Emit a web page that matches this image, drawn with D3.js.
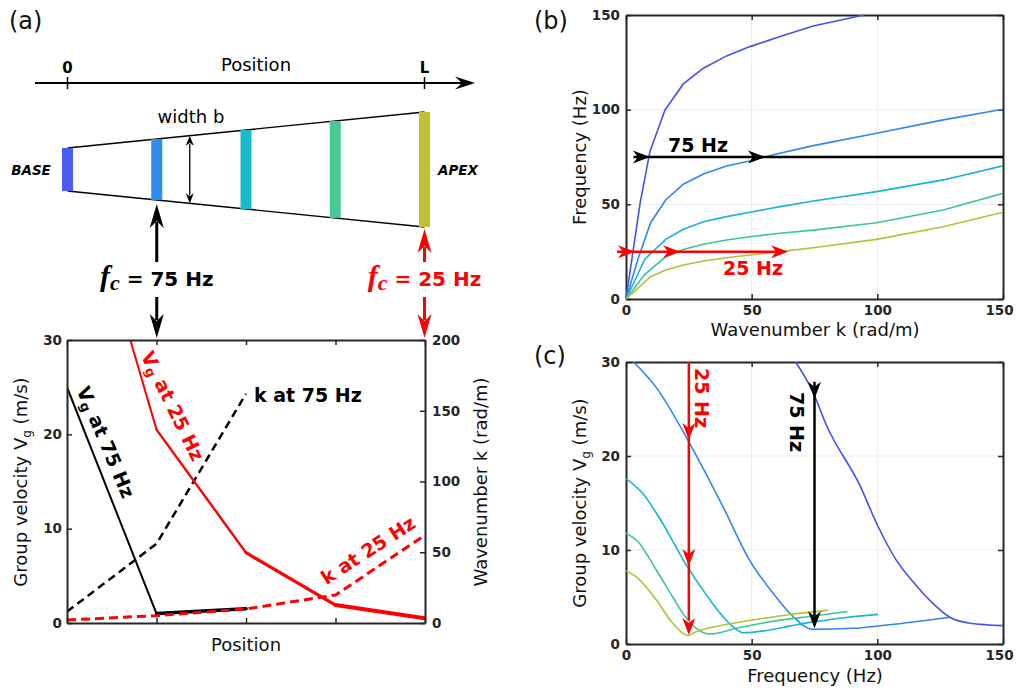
<!DOCTYPE html>
<html><head><meta charset="utf-8">
<script src="https://cdn.jsdelivr.net/npm/d3@7"></script>
<style>body{margin:0;background:#fff}svg{display:block}</style>
</head><body>
<svg id="fig" width="1016" height="690"></svg>
<script>
// ---------- DATA ----------
// Panel (a): schematic + group velocity / wavenumber along position
const positions = [0, 1, 2, 3, 4];
const barColors = ["#4b5cf2", "#2e8cf0", "#18bccd", "#44c995", "#c0c030"];
const vg75 = [25, 1.0, 1.5];            // positions 0..2
const k75 = [8, 56, 162];               // positions 0..2
const vg25 = [53, 20.5, 7.45, 1.9, 0.5];
const k25 = [2.1, 5.2, 9.9, 19.8, 62];
const aLeftTicks = [0, 10, 20, 30];
const aRightTicks = [0, 50, 100, 150, 200];

// Panel (b): dispersion curves (wavenumber k, frequency f)
const bK1 = [0, 5.6, 9.5, 15.5, 22.8, 30.8, 40, 49.3, 61.3, 74.5, 94.7];
const bF1 = [0, 50.5, 77.8, 99.8, 113.6, 121.9, 128.4, 133.3, 138.6, 144.2, 150];
const bK2 = [0, 5, 9.8, 15.8, 22.8, 30.8, 40, 49.3, 59.9, 74.5, 99.7, 126.2, 150];
const bF2 = [0, 22, 40.3, 52.3, 60.6, 66, 70.3, 72.9, 76.6, 81, 87.5, 94.6, 100.2];
const bK3 = [0, 7.5, 15.8, 22.8, 30.8, 40, 49.3, 61.3, 74.5, 99.7, 126.2, 150];
const bF3 = [0, 21, 31.5, 36.8, 40.8, 43.5, 45.8, 48.8, 51.8, 56.7, 62.9, 70.3];
const bK4 = [0, 7.5, 15.8, 22.8, 30.8, 40, 49.3, 61.3, 74.5, 99.7, 126.2, 150];
const bF4 = [0, 13, 22.3, 26.2, 28.9, 31.2, 32.9, 34.7, 36.4, 40.3, 47, 55.8];
const bK5 = [0, 9.8, 15.8, 22.8, 30.8, 40, 49.3, 61.3, 74.5, 99.7, 126.2, 150];
const bF5 = [0, 11.8, 15.3, 18, 20.1, 21.8, 23.2, 25, 27.1, 31.5, 38.2, 45.8];
const bTicks = [0, 50, 100, 150];

// Panel (c): group velocity vs frequency
const cF1 = [67.5, 74.4, 79.7, 93, 100.3, 107.6, 114.3, 122.2, 128.9, 136.9, 150];
const cV1 = [30, 26.8, 23.3, 16.9, 12.5, 8.9, 6.6, 4.3, 2.84, 2.2, 1.95];
const cF2 = [3, 12, 25.3, 38.6, 49.2, 58.5, 66.5, 74.4, 90.4, 100.3, 128.9];
const cV2 = [30, 27.3, 21.35, 14.6, 8.9, 5.4, 2.9, 1.56, 1.67, 1.91, 2.84];
const cF3 = [0, 6.7, 13.3, 24, 32, 38.6, 42.6, 46.5, 55, 65, 74.4, 87, 100.3];
const cV3 = [17.6, 16, 13.4, 8.4, 5.2, 2.9, 1.84, 1.2, 1.4, 1.9, 2.35, 2.8, 3.15];
const cF4 = [0, 4.7, 12, 18.6, 22.6, 28, 33.3, 43.9, 57.2, 74.4, 88.1];
const cV4 = [11.8, 10.9, 7.9, 5.0, 3.26, 1.67, 1.06, 1.67, 2.37, 2.98, 3.45];
const cF5 = [0, 4.7, 12, 18.6, 22.6, 24.6, 28, 37.2, 50.5, 63.8, 80.4];
const cV5 = [7.8, 7.0, 4.7, 2.2, 1.14, 0.9, 1.31, 1.95, 2.55, 3.09, 3.6];
const cXTicks = [0, 50, 100, 150];
const cYTicks = [0, 10, 20, 30];

const curveColors = ["#4650ea", "#2f86f0", "#18b4d4", "#3cc59a", "#aec23a"];

// ---------- DRAW ----------
const svg = d3.select("#fig");
const SANS = "DejaVu Sans";
const TICKF = "DejaVu Sans";
const AX = "#262626";

function head(g, x, y, dx, dy, L, W, N, color) {
  const nx = -dy, ny = dx;
  const bx = x - L * dx, by = y - L * dy;
  const p = [[x, y], [bx + W * nx, by + W * ny], [x - (L - N) * dx, y - (L - N) * dy], [bx - W * nx, by - W * ny]];
  g.append("path").attr("d", "M" + p.map(q => q.join(",")).join("L") + "Z").attr("fill", color);
}

function styleAxis(sel) {
  sel.attr("font-family", TICKF).attr("font-size", 13.5);
  sel.select(".domain").attr("stroke", AX).attr("stroke-width", 2);
  sel.selectAll(".tick line").attr("stroke", AX).attr("stroke-width", 1.5);
  sel.selectAll(".tick text").attr("fill", AX)
     .style("font-family", TICKF).style("font-weight", "700").style("font-size", "13.5px");
}

function frame(g, x, y, xt, ytL, opts) {
  opts = opts || {};
  const [x0, x1] = x.range(), [y0, y1] = y.range();
  if (opts.grid) {
    const gg = g.append("g");
    opts.gridX.forEach(v => gg.append("line").attr("x1", x(v)).attr("x2", x(v)).attr("y1", y0).attr("y2", y1).attr("stroke", "#ebebeb"));
    opts.gridY.forEach(v => gg.append("line").attr("x1", x0).attr("x2", x1).attr("y1", y(v)).attr("y2", y(v)).attr("stroke", "#ebebeb"));
  }
  const bx = g.append("g").attr("transform", `translate(0,${y0})`)
    .call(d3.axisBottom(x).tickValues(xt).tickSize(-5).tickSizeOuter(0).tickPadding(6).tickFormat(opts.xfmt || d3.format("d")));
  styleAxis(bx);
  bx.selectAll(".tick text").filter(d => d === x.domain()[1] && x.range()[1] > 990).attr("dx", -4);
  const tx = g.append("g").attr("transform", `translate(0,${y1})`)
    .call(d3.axisTop(x).tickValues(xt).tickSize(-5).tickSizeOuter(0).tickFormat(""));
  styleAxis(tx);
  const ly = g.append("g").attr("transform", `translate(${x0},0)`)
    .call(d3.axisLeft(y).tickValues(ytL).tickSize(-5).tickSizeOuter(0).tickPadding(opts.lpad || 6).tickFormat(d3.format("d")));
  styleAxis(ly);
  if (!opts.noRight) {
    const ry = g.append("g").attr("transform", `translate(${x1},0)`)
      .call(d3.axisRight(y).tickValues(ytL).tickSize(-5).tickSizeOuter(0).tickFormat(""));
    styleAxis(ry);
  }
}

function clip(id, x, y) {
  svg.append("clipPath").attr("id", id).append("rect")
    .attr("x", x.range()[0]).attr("y", y.range()[1])
    .attr("width", x.range()[1] - x.range()[0]).attr("height", y.range()[0] - y.range()[1]);
}

function panelLabel(t, x, y) {
  svg.append("text").attr("x", x).attr("y", y).attr("font-family", SANS).attr("font-size", 24).attr("fill", "#111").text(t);
}

// ===== Panel (a) schematic =====
panelLabel("(a)", 9, 29);
panelLabel("(b)", 534, 29);
panelLabel("(c)", 534, 364);

const xa = d3.scaleLinear([0, 4], [67.5, 424.5]);
const halfW = d3.scaleLinear([0, 4], [21.5, 57.5]);
const cy = 169.5;
const sch = svg.append("g");

// position axis
sch.append("line").attr("x1", 35).attr("x2", 462).attr("y1", 83).attr("y2", 83).attr("stroke", "#000").attr("stroke-width", 2);
head(sch, 475, 83, 1, 0, 20, 6.5, 7, "#000");
[0, 4].forEach(p => sch.append("line").attr("x1", xa(p)).attr("x2", xa(p)).attr("y1", 77).attr("y2", 89).attr("stroke", "#000").attr("stroke-width", 1.5));
sch.append("text").attr("x", xa(0)).attr("y", 73).attr("text-anchor", "middle").attr("font-family", SANS).attr("font-weight", "bold").attr("font-size", 15).text("0");
sch.append("text").attr("x", xa(4)).attr("y", 73).attr("text-anchor", "middle").attr("font-family", SANS).attr("font-weight", "bold").attr("font-size", 15).text("L");
sch.append("text").attr("x", 256).attr("y", 71).attr("text-anchor", "middle").attr("font-family", SANS).attr("font-size", 18).text("Position");

// trapezoid
sch.append("line").attr("x1", xa(0)).attr("x2", xa(4)).attr("y1", cy - halfW(0)).attr("y2", cy - halfW(4)).attr("stroke", "#000").attr("stroke-width", 1.3);
sch.append("line").attr("x1", xa(0)).attr("x2", xa(4)).attr("y1", cy + halfW(0)).attr("y2", cy + halfW(4)).attr("stroke", "#000").attr("stroke-width", 1.3);
sch.selectAll("rect.bar").data(positions).join("rect").attr("class", "bar")
  .attr("x", p => xa(p) - 5.5).attr("width", 11)
  .attr("y", p => cy - halfW(p)).attr("height", p => 2 * halfW(p))
  .attr("fill", (p, i) => barColors[i]);

// width b arrow
const wbP = 1.37;
sch.append("line").attr("x1", xa(wbP)).attr("x2", xa(wbP)).attr("y1", cy - halfW(wbP) + 8).attr("y2", cy + halfW(wbP) - 8).attr("stroke", "#000").attr("stroke-width", 1.3);
head(sch, xa(wbP), cy - halfW(wbP), 0, -1, 10, 4, 3, "#000");
head(sch, xa(wbP), cy + halfW(wbP), 0, 1, 10, 4, 3, "#000");
sch.append("text").attr("x", 191).attr("y", 123).attr("text-anchor", "middle").attr("font-family", SANS).attr("font-size", 18).text("width b");
sch.append("text").attr("x", 31).attr("y", 175).attr("text-anchor", "middle").attr("font-family", SANS).attr("font-weight", "bold").attr("font-style", "italic").attr("font-size", 13.5).text("BASE");
sch.append("text").attr("x", 458).attr("y", 175).attr("text-anchor", "middle").attr("font-family", SANS).attr("font-weight", "bold").attr("font-style", "italic").attr("font-size", 13.5).text("APEX");

// fc arrows
function fcArrow(p, color, upTip, label) {
  const x = xa(p);
  sch.append("line").attr("x1", x).attr("x2", x).attr("y1", 262).attr("y2", upTip + 18).attr("stroke", color).attr("stroke-width", 3);
  head(sch, x, upTip, 0, -1, 24, 7, 7, color);
  sch.append("line").attr("x1", x).attr("x2", x).attr("y1", 297).attr("y2", 320).attr("stroke", color).attr("stroke-width", 3);
  head(sch, x, 338, 0, 1, 24, 7, 7, color);
  const t = sch.append("text").attr("x", x).attr("y", 286).attr("text-anchor", "middle").attr("fill", color);
  t.append("tspan").attr("font-family", "Liberation Serif").attr("font-style", "italic").attr("font-weight", "bold").attr("font-size", 30).text("f");
  t.append("tspan").attr("font-family", "Liberation Serif").attr("font-style", "italic").attr("font-weight", "bold").attr("font-size", 22).attr("dy", 4).text("c");
  t.append("tspan").attr("font-family", SANS).attr("font-weight", "bold").attr("font-size", 20).attr("dy", -4).text(" = " + label);
}
fcArrow(1, "#000", 204, "75 Hz");
fcArrow(4, "#ff0000", 229, "25 Hz");

// ===== Panel (a) chart =====
const yaL = d3.scaleLinear([0, 30], [623, 340]);
const yaR = d3.scaleLinear([0, 200], [623, 340]);
const ga = svg.append("g");
const xA = d3.scaleLinear([0, 4], [67, 425]);
clip("clipA", xA, yaL);
const la = ga.append("g").attr("clip-path", "url(#clipA)");

function segs(g, xs, ys, yscale, color, widths) {
  const line = d3.line().x(d => xA(d[0])).y(d => yscale(d[1]));
  for (let i = 0; i < xs.length - 1; i++) {
    g.append("path").attr("d", line([[xs[i], ys[i]], [xs[i + 1], ys[i + 1]]]))
      .attr("fill", "none").attr("stroke", color).attr("stroke-width", widths[i]).attr("stroke-linecap", "round");
  }
}
function poly(g, xs, ys, yscale, color, w, dash) {
  const line = d3.line().x(d => xA(d[0])).y(d => yscale(d[1]));
  const p = g.append("path").attr("d", line(xs.map((v, i) => [v, ys[i]])))
    .attr("fill", "none").attr("stroke", color).attr("stroke-width", w).attr("stroke-linejoin", "round");
  if (dash) p.attr("stroke-dasharray", dash);
}
poly(la, positions.slice(0, 3), k75, yaR, "#000", 2.5, "8,5");
segs(la, positions, vg25, yaL, "#ff0000", [2, 2.4, 3.2, 4, 4.6]);
segs(la, positions.slice(0, 3), vg75, yaL, "#000", [2, 3.5]);
poly(la, positions, k25, yaR, "#ff0000", 3, "9,5");

frame(ga, xA, yaL, positions, aLeftTicks, { xfmt: () => "", noRight: true, lpad: 5 });
const ry = ga.append("g").attr("transform", "translate(425,0)")
  .call(d3.axisRight(yaR).tickValues(aRightTicks).tickSize(-5).tickSizeOuter(0).tickPadding(7).tickFormat(d3.format("d")));
styleAxis(ry);

// labels in (a) chart
function rotLabel(g, x, y, ang, color, parts) {
  const t = g.append("text").attr("transform", `translate(${x},${y}) rotate(${ang})`)
    .attr("text-anchor", "middle").attr("dominant-baseline", "central")
    .attr("font-family", SANS).attr("font-weight", "bold").attr("font-size", 19).attr("fill", color);
  parts.forEach(p => {
    const s = t.append("tspan").text(p.t);
    if (p.sub) s.attr("font-size", 13).attr("dy", 5);
    if (p.up) s.attr("dy", -5);
  });
}
rotLabel(ga, 106, 442, 67, "#000", [{ t: "V" }, { t: "g", sub: 1 }, { t: " at 75 Hz", up: 1 }]);
rotLabel(ga, 173, 406, 64, "#ff0000", [{ t: "V" }, { t: "g", sub: 1 }, { t: " at 25 Hz", up: 1 }]);
ga.append("text").attr("x", 254).attr("y", 402).attr("font-family", SANS).attr("font-weight", "bold").attr("font-size", 19).text("k at 75 Hz");
rotLabel(ga, 368, 550, -33, "#ff0000", [{ t: "k at 25 Hz" }]);

// axis titles (a)
const lt = ga.append("text").attr("transform", "translate(27,482) rotate(-90)").attr("text-anchor", "middle")
  .attr("font-family", SANS).attr("font-size", 18).attr("fill", "#111");
lt.append("tspan").text("Group velocity V");
lt.append("tspan").text("g").attr("font-size", 12).attr("dy", 4);
lt.append("tspan").text(" (m/s)").attr("dy", -4);
ga.append("text").attr("transform", "translate(487,482) rotate(-90)").attr("text-anchor", "middle")
  .attr("font-family", SANS).attr("font-size", 18).attr("fill", "#111").text("Wavenumber k (rad/m)");
ga.append("text").attr("x", 246).attr("y", 651).attr("text-anchor", "middle").attr("font-family", SANS).attr("font-size", 18).attr("fill", "#111").text("Position");

// ===== Panel (b) =====
const xb = d3.scaleLinear([0, 150], [626, 1003]);
const yb = d3.scaleLinear([0, 150], [299, 15]);
const gb = svg.append("g");
clip("clipB", xb, yb);
frame(gb, xb, yb, bTicks, bTicks, { grid: 1, gridX: [50, 100], gridY: [50, 100] });
const lb = gb.append("g").attr("clip-path", "url(#clipB)");
const bLine = d3.line().x(d => xb(d[0])).y(d => yb(d[1]));
[[bK1, bF1], [bK2, bF2], [bK3, bF3], [bK4, bF4], [bK5, bF5]].forEach(([ks, fs], i) => {
  lb.append("path").attr("d", bLine(ks.map((k, j) => [k, fs[j]])))
    .attr("fill", "none").attr("stroke", curveColors[i]).attr("stroke-width", 1.6);
});
// 75 Hz arrow
const gbA = gb.append("g");
gbA.append("line").attr("x1", xb(3)).attr("x2", xb(150)).attr("y1", yb(75)).attr("y2", yb(75)).attr("stroke", "#000").attr("stroke-width", 2.5);
[9.5, 55.3].forEach(k => head(gbA, xb(k), yb(75), 1, 0, 17, 6.5, 5, "#000"));
gbA.append("text").attr("x", 668).attr("y", 152).attr("font-family", SANS).attr("font-weight", "bold").attr("font-size", 19).text("75 Hz");
// 25 Hz arrow
gbA.append("line").attr("x1", xb(-3.6)).attr("x2", xb(62)).attr("y1", yb(25)).attr("y2", yb(25)).attr("stroke", "#ff0000").attr("stroke-width", 2.5);
[3.6, 21.5, 64.5].forEach(k => head(gbA, xb(k), yb(25), 1, 0, 17, 6.5, 5, "#ff0000"));
gbA.append("text").attr("x", 723).attr("y", 275).attr("font-family", SANS).attr("font-weight", "bold").attr("font-size", 19).attr("fill", "#ff0000").text("25 Hz");
gb.append("text").attr("transform", "translate(586,157) rotate(-90)").attr("text-anchor", "middle")
  .attr("font-family", SANS).attr("font-size", 18).attr("fill", "#111").text("Frequency (Hz)");
gb.append("text").attr("x", 815).attr("y", 336).attr("text-anchor", "middle")
  .attr("font-family", SANS).attr("font-size", 18).attr("fill", "#111").text("Wavenumber k (rad/m)");

// ===== Panel (c) =====
const xc = d3.scaleLinear([0, 150], [626, 1003]);
const yc = d3.scaleLinear([0, 30], [644, 362]);
const gc = svg.append("g");
clip("clipC", xc, yc);
frame(gc, xc, yc, cXTicks, cYTicks, { grid: 1, gridX: [50, 100], gridY: [10, 20] });
const lc = gc.append("g").attr("clip-path", "url(#clipC)");
const cLine = d3.line().x(d => xc(d[0])).y(d => yc(d[1])).curve(d3.curveMonotoneX);
[[cF1, cV1], [cF2, cV2], [cF3, cV3], [cF4, cV4], [cF5, cV5]].forEach(([fs, vs], i) => {
  lc.append("path").attr("d", cLine(fs.map((f, j) => [f, vs[j]])))
    .attr("fill", "none").attr("stroke", curveColors[i]).attr("stroke-width", 1.6);
});
const gcA = gc.append("g");
gcA.append("line").attr("x1", xc(25)).attr("x2", xc(25)).attr("y1", yc(30)).attr("y2", yc(2.5)).attr("stroke", "#ff0000").attr("stroke-width", 2.5);
[21.7, 8.3, 0.95].forEach(v => head(gcA, xc(25), yc(v), 0, 1, 17, 6.5, 5, "#ff0000"));
gcA.append("line").attr("x1", xc(75)).attr("x2", xc(75)).attr("y1", yc(27.9)).attr("y2", yc(3)).attr("stroke", "#000").attr("stroke-width", 2.5);
[26.1, 1.67].forEach(v => head(gcA, xc(75), yc(v), 0, 1, 17, 6.5, 5, "#000"));
gcA.append("text").attr("transform", "translate(702,398) rotate(90)").attr("text-anchor", "middle").attr("dominant-baseline", "central")
  .attr("font-family", SANS).attr("font-weight", "bold").attr("font-size", 19).attr("fill", "#ff0000").text("25 Hz");
gcA.append("text").attr("transform", "translate(797,422) rotate(90)").attr("text-anchor", "middle").attr("dominant-baseline", "central")
  .attr("font-family", SANS).attr("font-weight", "bold").attr("font-size", 19).attr("fill", "#000").text("75 Hz");
const ct = gc.append("text").attr("transform", "translate(586,503) rotate(-90)").attr("text-anchor", "middle")
  .attr("font-family", SANS).attr("font-size", 18).attr("fill", "#111");
ct.append("tspan").text("Group velocity V");
ct.append("tspan").text("g").attr("font-size", 12).attr("dy", 4);
ct.append("tspan").text(" (m/s)").attr("dy", -4);
gc.append("text").attr("x", 815).attr("y", 682).attr("text-anchor", "middle")
  .attr("font-family", SANS).attr("font-size", 18).attr("fill", "#111").text("Frequency (Hz)");
</script>
</body></html>
